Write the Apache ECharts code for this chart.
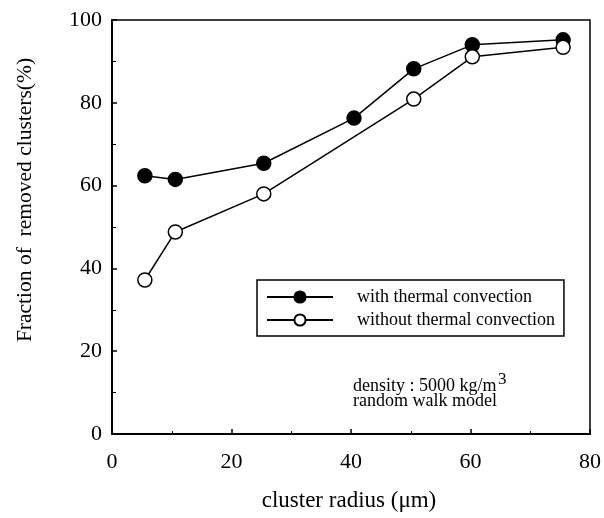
<!DOCTYPE html>
<html>
<head>
<meta charset="utf-8">
<script src="https://cdn.jsdelivr.net/npm/echarts@6/dist/echarts.min.js"></script>
<style>
  html, body { margin: 0; padding: 0; background: #fff; }
  #chart { width: 604px; height: 518px; }
</style>
</head>
<body>
<div id="chart"></div>
<script>
// data
const withX = [5.5, 10.6, 25.4, 40.5, 50.5, 60.3, 75.5]
const withY = [62.4, 61.5, 65.4, 76.3, 88.2, 94.0, 95.2]
const withoutX = [5.5, 10.6, 25.4, 50.5, 60.3, 75.5]
const withoutY = [37.2, 48.8, 58.0, 80.9, 91.1, 93.4]
const xTicks = [0, 20, 40, 60, 80]
const yTicks = [0, 20, 40, 60, 80, 100]

const font = '"Liberation Serif", "DejaVu Serif", serif'

const chart = echarts.init(document.getElementById('chart'))

function pairs(xs, ys) {
  return xs.map((x, i) => [x, ys[i]])
}

const option = {
  animation: false,
  backgroundColor: '#fff',
  grid: {
    left: 112, top: 20, right: 10, bottom: 84,
    show: true,
    borderColor: '#000',
    borderWidth: 1.5
  },
  xAxis: {
    type: 'value',
    min: xTicks[0], max: xTicks[xTicks.length - 1], interval: 20,
    axisLine: { lineStyle: { color: '#000', width: 2 } },
    axisTick: { inside: true, length: 5, lineStyle: { color: '#000', width: 1.5 } },
    minorTick: { show: true, splitNumber: 2, length: 3, lineStyle: { color: '#000', width: 1 } },
    axisLabel: { fontFamily: font, fontSize: 22, color: '#000', margin: 17 },
    splitLine: { show: false }
  },
  yAxis: {
    type: 'value',
    min: yTicks[0], max: yTicks[yTicks.length - 1], interval: 20,
    axisLine: { lineStyle: { color: '#000', width: 2 } },
    axisTick: { inside: true, length: 5, lineStyle: { color: '#000', width: 1.5 } },
    minorTick: { show: true, splitNumber: 2, length: 4, lineStyle: { color: '#000', width: 1 } },
    axisLabel: { fontFamily: font, fontSize: 22, color: '#000', margin: 10, padding: [8, 0, 0, 0] },
    splitLine: { show: false }
  },
  legend: {
    orient: 'vertical',
    left: 257, top: 280,
    padding: [8, 9, 7, 9],
    itemGap: 5,
    itemWidth: 66,
    itemHeight: 14,
    borderColor: '#000',
    borderWidth: 1.5,
    textStyle: { fontFamily: font, fontSize: 18, lineHeight: 18, color: '#000', padding: [0, 0, 0, 19] },
    data: ['with thermal convection', 'without thermal convection']
  },
  graphic: [
    {
      type: 'text', x: 25, y: 200, rotation: Math.PI / 2,
      style: {
        text: 'Fraction of  removed clusters(%)',
        fontFamily: font, fontSize: 21.5, fill: '#000',
        align: 'center', verticalAlign: 'middle'
      }
    },
    {
      type: 'text', x: 349, y: 501,
      style: {
        text: 'cluster radius (\u03bcm)',
        fontFamily: font, fontSize: 23, fill: '#000',
        align: 'center', verticalAlign: 'middle'
      }
    },
    {
      type: 'text', x: 353, y: 379,
      style: {
        text: 'density : 5000 kg/m\nrandom walk model',
        fontFamily: font, fontSize: 18, lineHeight: 15, fill: '#000'
      }
    },
    {
      type: 'text', x: 498, y: 371,
      style: {
        text: '3',
        fontFamily: font, fontSize: 17, fill: '#000'
      }
    }
  ],
  series: [
    {
      name: 'with thermal convection',
      type: 'line',
      data: pairs(withX, withY),
      symbol: 'circle',
      symbolSize: 14,
      lineStyle: { color: '#000', width: 1.5 },
      itemStyle: { color: '#000', borderColor: '#000', borderWidth: 1.5 }
    },
    {
      name: 'without thermal convection',
      type: 'line',
      data: pairs(withoutX, withoutY),
      symbol: 'circle',
      symbolSize: 14,
      lineStyle: { color: '#000', width: 1.5 },
      itemStyle: { color: '#fff', borderColor: '#000', borderWidth: 1.5 }
    }
  ]
}
chart.setOption(option)
</script>
</body>
</html>
